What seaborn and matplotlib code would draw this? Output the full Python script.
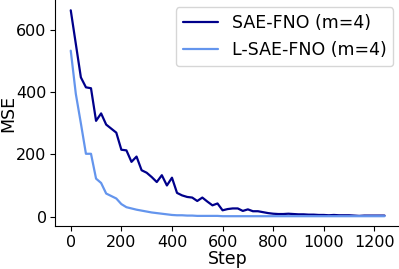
import numpy as np
import pandas as pd
import seaborn as sns
from matplotlib import pyplot as plt

# 数据
steps = list(range(0, 1241, 20))
mse_sae = [664, 556, 448, 416, 413, 308, 332, 296, 283, 270,
           215, 213, 176, 193, 149, 141, 127, 111, 133, 100,
           125, 76, 68, 63, 61, 50, 61, 48, 36, 42,
           20, 24, 26, 26, 18, 23, 17, 17, 14, 11,
           9, 8, 8, 9, 8, 7, 7, 6, 6, 5,
           5, 4, 5, 4, 4, 4, 3, 2, 3, 3,
           3, 3, 3]
mse_lsae = [534, 395, 300, 202, 202, 122, 108, 74, 66, 58,
            40, 30, 26, 22, 19, 16, 13, 11, 9, 7,
            5, 4, 4, 3, 3, 2, 2, 2, 2, 2,
            1, 1, 1, 1, 1, 1, 1, 1, 1, 1,
            1, 1, 1, 1, 1, 1, 1, 1, 1, 1,
            1, 1, 1, 1, 1, 1, 1, 1, 1, 1,
            1, 1, 1]
labels = ["SAE-FNO (m=4)", "L-SAE-FNO (m=4)"]
colors = ["#00008B", "#6495ED"]

df = pd.DataFrame({
    "Step": steps * 2,
    "MSE": mse_sae + mse_lsae,
    "model": [labels[0]] * len(steps) + [labels[1]] * len(steps),
})

sns.set_style("ticks", {"text.color": "black", "axes.labelcolor": "black",
                        "xtick.color": "black", "ytick.color": "black",
                        "axes.edgecolor": "black"})
plt.rcParams["font.family"] = ["DejaVu Sans"]

fig = plt.figure(figsize=(3.99, 2.69), dpi=100)
ax = fig.add_axes([0.138, 0.158, 0.865, 0.842])
sns.lineplot(data=df, x="Step", y="MSE", hue="model", palette=colors,
             linewidth=1.6, ax=ax)

ax.set_xticks([0, 200, 400, 600, 800, 1000, 1200])
ax.set_yticks([0, 200, 400, 600])
ax.tick_params(labelsize=11.5, pad=2.5)
ax.set_xlabel("Step", fontsize=12.5, labelpad=0)
ax.set_ylabel("MSE", fontsize=12.5, labelpad=0)
ax.yaxis.set_label_coords(-0.11, 0.5)
sns.despine(ax=ax)
ax.legend(title=None, fontsize=12.5, loc="upper right",
          bbox_to_anchor=(0.995, 0.99), borderaxespad=0.3)

fig.savefig("out.png", dpi=100)
